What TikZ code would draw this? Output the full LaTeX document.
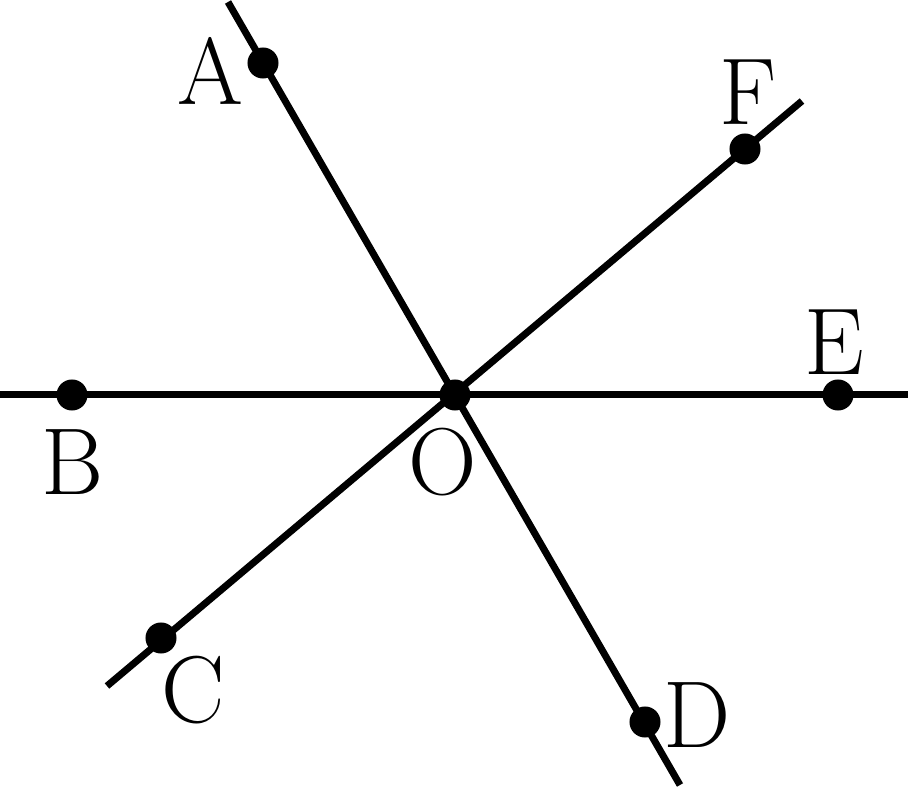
\documentclass[tikz,border=0pt]{standalone}
\begin{document}
\begin{tikzpicture}[x=0.01cm,y=-0.01cm,
  ln/.style={line width=0.07cm},
  pt/.style={circle,fill=black,inner sep=0pt,minimum size=0.31cm},
  lab/.style={font=\fontsize{27}{32}\selectfont,inner sep=0pt}]
\useasboundingbox (0,0) rectangle (908,791);
\coordinate (l1) at (0,395);
\coordinate (l2) at (908,395);
\coordinate (a1) at (228,2);
\coordinate (a2) at (680,785);
\coordinate (c1) at (107,686);
\coordinate (c2) at (802,101);
\draw[ln] (l1) -- (l2);
\draw[ln] (a1) -- (a2);
\draw[ln] (c1) -- (c2);
\node[pt] (O) at (455,395) {};
\node[pt] (A) at (263,63) {};
\node[pt] (B) at (72,395) {};
\node[pt] (C) at (161,638) {};
\node[pt] (D) at (645,722) {};
\node[pt] (E) at (838,395) {};
\node[pt] (F) at (745,149) {};
\node[lab] (lA) at (210,71) {A};
\node[lab] (lB) at (73,462) {B};
\node[lab] (lC) at (193,690) {C};
\node[lab] (lD) at (697,715) {D};
\node[lab] (lE) at (834,342) {E};
\node[lab] (lF) at (748,92) {F};
\node[lab] (lO) at (443,462) {O};
\end{tikzpicture}
\end{document}
